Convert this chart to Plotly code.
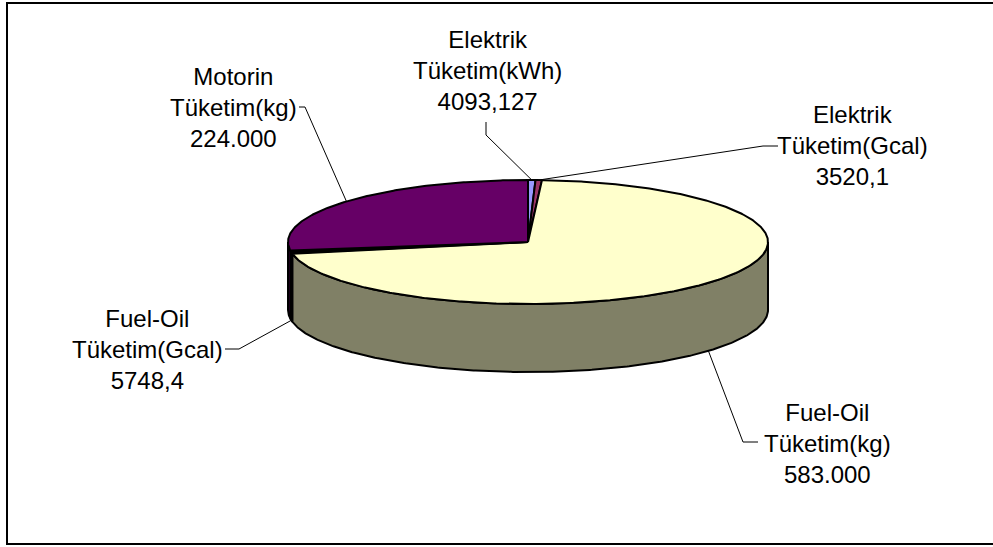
import math
import plotly.graph_objects as go

# Energy consumption breakdown
categories = [
    "Elektrik<br>Tüketim(kWh)",
    "Elektrik<br>Tüketim(Gcal)",
    "Fuel-Oil<br>Tüketim(kg)",
    "Fuel-Oil<br>Tüketim(Gcal)",
    "Motorin<br>Tüketim(kg)",
]
values = [4093.127, 3520.1, 583000, 5748.4, 224000]

top_colors = ["#9999FF", "#993366", "#FFFFCC", "#CCFFFF", "#660066"]
side_colors = ["#4D4D80", "#4D1A33", "#808066", "#668080", "#330033"]

# label block centres and leader-line elbows (pixel space)
label_pos = [(487, 70), (852, 145), (827, 443), (147, 349), (233, 107)]
leader_elbow = [
    [(486, 135), (486, 122)],
    [(763, 146), (778, 146)],
    [(743, 442), (758, 442)],
    [(239, 349), (225, 349)],
    [(305, 107), (299, 107)],
]

W, H = 993, 547
CX, CY, RX, RY, DEPTH = 528, 242, 240, 62, 68


def tr_fmt(v):
    if float(v).is_integer():
        return f"{int(v):,}".replace(",", ".")
    return str(v).replace(".", ",")


def pt(theta_deg, drop=0.0):
    t = math.radians(theta_deg)
    return CX + RX * math.cos(t), CY - RY * math.sin(t) + drop


def arc(a0, a1, drop=0.0, step=0.5):
    n = max(2, int(abs(a1 - a0) / step) + 1)
    pts = [pt(a0 + (a1 - a0) * i / (n - 1), drop) for i in range(n)]
    return [p[0] for p in pts], [p[1] for p in pts]


total = sum(values)
bounds = []
cum = 0.0
for v in values:
    a_start = 90 - 360 * cum / total
    cum += v
    a_end = 90 - 360 * cum / total
    bounds.append((a_start, a_end))

fig = go.Figure()

# side walls (front half only, angles between -180 and 0 / -540 and -360)
for (a0, a1), col in zip(bounds, side_colors):
    # slices run clockwise: a0 > a1
    for lo, hi in [(-180, 0), (-540, -360)]:
        s = min(a0, hi)
        e = max(a1, lo)
        if s > e:
            xt, yt = arc(s, e)
            xb, yb = arc(e, s, DEPTH)
            fig.add_trace(go.Scatter(
                x=xt + xb + [xt[0]], y=yt + yb + [yt[0]],
                mode="lines", fill="toself", fillcolor=col,
                line=dict(color="black", width=2),
                hoverinfo="skip", showlegend=False))

# top faces
for (a0, a1), col, name, v in zip(bounds, top_colors, categories, values):
    xa, ya = arc(a0, a1)
    fig.add_trace(go.Scatter(
        x=[CX] + xa + [CX], y=[CY] + ya + [CY],
        mode="lines", fill="toself", fillcolor=col,
        line=dict(color="black", width=2),
        name=name.replace("<br>", " "), text=tr_fmt(v),
        hoverinfo="name+text", showlegend=False))

# labels and leader lines
for (a0, a1), name, v, (lx, ly), elbow in zip(bounds, categories, values, label_pos, leader_elbow):
    mid = (a0 + a1) / 2
    front = math.sin(math.radians(mid)) < 0
    px, py = pt(mid, DEPTH if front else 0)
    xs = [px] + [e[0] for e in elbow]
    ys = [py] + [e[1] for e in elbow]
    fig.add_trace(go.Scatter(x=xs, y=ys, mode="lines",
                             line=dict(color="black", width=1),
                             hoverinfo="skip", showlegend=False))
    fig.add_annotation(x=lx, y=ly, text=f"{name}<br>{tr_fmt(v)}",
                       showarrow=False, xanchor="center", yanchor="middle",
                       align="center",
                       font=dict(family="Liberation Sans, Arial, sans-serif",
                                 size=24, color="black"))

# chart frame
fig.add_shape(type="rect", x0=7, y0=3, x1=W + 5, y1=544,
              line=dict(color="black", width=2), layer="above")

fig.update_layout(
    width=W, height=H, autosize=False,
    margin=dict(l=0, r=0, t=0, b=0),
    paper_bgcolor="white", plot_bgcolor="white",
    xaxis=dict(range=[0, W], visible=False, fixedrange=True),
    yaxis=dict(range=[H, 0], visible=False, fixedrange=True),
    showlegend=False,
)

fig.write_html("out.html")
